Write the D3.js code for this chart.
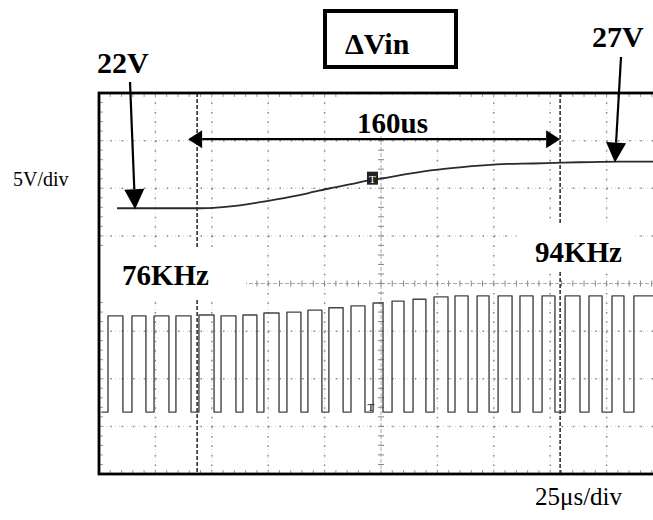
<!DOCTYPE html>
<html>
<head>
<meta charset="utf-8">
<script src="https://cdn.jsdelivr.net/npm/d3@7"></script>
<style>
  html, body { margin: 0; padding: 0; background: #fff; }
  svg { display: block; }
  .lbl { font-family: "Liberation Serif", "Times New Roman", serif; font-weight: bold; fill: #000; }
  .reg { font-family: "Liberation Serif", "Times New Roman", serif; fill: #000; }
</style>
</head>
<body>
<svg id="c" width="653" height="520"></svg>
<script>
// ---------------- data ----------------
// time axis: 25 us/div, 10 divisions
const timeDivs = [0, 1, 2, 3, 4, 5, 6, 7, 8, 9, 10];
const usPerDiv = 25;
const voltDivs = [-4, -3, -2, -1, 0, 1, 2, 3, 4];
const voltsPerDiv = 5;
const ch1Offset = 14.1; // volts at screen centre for channel 1

// channel 1: input voltage step 22V -> 27V
const vinTime  = [8, 27, 44.8, 53.6, 62.5, 73, 84.7, 93, 102.4, 111, 120.1, 125.9, 137, 148.0, 160, 170.2, 181, 192.4, 205.7, 218, 229.6, 245.6, 250];
const vinVolts = [22.0, 22.0, 22.0, 22.1, 22.3, 22.7, 23.2, 23.6, 24.1, 24.5, 24.95, 25.15, 25.6, 26.0, 26.3, 26.5, 26.65, 26.7, 26.8, 26.85, 26.9, 26.9, 26.9];

// channel 2: switching waveform (edge times in us, levels in divisions)
const riseTimes = [4.0, 14.6, 24.4, 34.1, 44.3, 54.1, 63.8, 73.1, 83.3, 92.6, 101.9, 111.7, 121.5, 129.9, 139.2, 148.5, 157.8, 167.6, 176.9, 186.6, 196.4, 206.6, 217.2, 227.4, 237.1];
const fallTimes = [10.6, 20.8, 31.0, 40.8, 51.0, 60.7, 70.0, 79.8, 89.5, 98.8, 108.2, 117.9, 125.9, 135.2, 144.9, 154.7, 163.6, 172.9, 183.1, 192.4, 202.1, 213.2, 223.0, 232.7];
const highLevels = [-0.68, -0.68, -0.68, -0.68, -0.66, -0.68, -0.66, -0.62, -0.60, -0.56, -0.51, -0.47, -0.41, -0.37, -0.33, -0.28, -0.26, -0.26, -0.26, -0.26, -0.26, -0.26, -0.26, -0.26, -0.26];
const lowLevel = -2.70;

// cursors (us) and annotations
const cursorTimes = [43.5, 204.4];
const deltaLabel = "160us";
const startLabel = "22V", endLabel = "27V";
const startVolt = 22.0, endVolt = 26.9;
const startArrowTime = 16, endArrowTime = 228.7;
const freqLeft = "76KHz", freqRight = "94KHz";
const titleLabel = "\u0394Vin";
const vScaleLabel = "5V/div", tScaleLabel = "25\u03bcs/div";
const triggerTime = 121;

// ---------------- scales ----------------
const svg = d3.select("#c");
const x = d3.scaleLinear().domain([0, 10 * usPerDiv]).range([99, 663]);
const y = d3.scaleLinear().domain([-4, 4]).range([474, 93]);
const yV = v => y((v - ch1Offset) / voltsPerDiv);

svg.append("rect").attr("width", 653).attr("height", 520).attr("fill", "#fff");

const grid = svg.append("g");
const minorX = (x(usPerDiv) - x(0)) / 5;
const minorY = (y(0) - y(1)) / 5;
const vLines = timeDivs.filter(d => d > 0 && d < 10 && d !== 5);
const hLines = voltDivs.filter(d => d > -4 && d < 4 && d !== 0);

// fine faint dotted grid lines
grid.selectAll("line.vgf").data(vLines).join("line")
  .attr("x1", d => x(d * usPerDiv)).attr("x2", d => x(d * usPerDiv))
  .attr("y1", y(4)).attr("y2", y(-4))
  .attr("stroke", "#d0d0d0").attr("stroke-width", 1).attr("stroke-dasharray", "1 3");
grid.selectAll("line.hgf").data(hLines).join("line")
  .attr("x1", x(0)).attr("x2", x(250))
  .attr("y1", d => y(d)).attr("y2", d => y(d))
  .attr("stroke", "#d0d0d0").attr("stroke-width", 1).attr("stroke-dasharray", "1 3");
// darker dots at minor divisions
grid.selectAll("line.vg").data(vLines).join("line")
  .attr("x1", d => x(d * usPerDiv)).attr("x2", d => x(d * usPerDiv))
  .attr("y1", y(4)).attr("y2", y(-4))
  .attr("stroke", "#8a8a8a").attr("stroke-width", 1.5)
  .attr("stroke-dasharray", `1.5 ${minorY - 1.5}`);
grid.selectAll("line.hg").data(hLines).join("line")
  .attr("x1", x(0)).attr("x2", x(250))
  .attr("y1", d => y(d)).attr("y2", d => y(d))
  .attr("stroke", "#8a8a8a").attr("stroke-width", 1.5)
  .attr("stroke-dasharray", `1.5 ${minorX - 1.5}`);

// centre axes with ticks
const cx = x(5 * usPerDiv), cy = y(0);
grid.append("line").attr("x1", x(0)).attr("x2", x(250)).attr("y1", cy).attr("y2", cy)
  .attr("stroke", "#aaa").attr("stroke-width", 1).attr("stroke-dasharray", "4 2");
grid.append("line").attr("x1", cx).attr("x2", cx).attr("y1", y(4)).attr("y2", y(-4))
  .attr("stroke", "#aaa").attr("stroke-width", 1).attr("stroke-dasharray", "4 2");
const xMinor = d3.range(1, 50).map(i => i * usPerDiv / 5);
const yMinor = d3.range(-19, 20).map(i => i / 5);
grid.selectAll("line.cxt").data(xMinor).join("line")
  .attr("x1", d => x(d)).attr("x2", d => x(d)).attr("y1", cy - 3).attr("y2", cy + 3)
  .attr("stroke", "#888").attr("stroke-width", 1);
grid.selectAll("line.cyt").data(yMinor).join("line")
  .attr("x1", cx - 3).attr("x2", cx + 3).attr("y1", d => y(d)).attr("y2", d => y(d))
  .attr("stroke", "#888").attr("stroke-width", 1);
// edge ticks
grid.selectAll("line.et").data(xMinor).join("line")
  .attr("x1", d => x(d)).attr("x2", d => x(d)).attr("y1", y(4)).attr("y2", y(4) + 4)
  .attr("stroke", "#999").attr("stroke-width", 1);
grid.selectAll("line.eb").data(xMinor).join("line")
  .attr("x1", d => x(d)).attr("x2", d => x(d)).attr("y1", y(-4)).attr("y2", y(-4) - 4)
  .attr("stroke", "#999").attr("stroke-width", 1);
grid.selectAll("line.el").data(yMinor).join("line")
  .attr("x1", x(0)).attr("x2", x(0) + 4).attr("y1", d => y(d)).attr("y2", d => y(d))
  .attr("stroke", "#999").attr("stroke-width", 1);

// cursors (dark dashed)
const cursorGaps = [[248, 300], [223, 272]];
cursorTimes.forEach((t, i) => {
  const [g0, g1] = cursorGaps[i];
  [[y(4), g0], [g1, y(-4)]].forEach(([a, b]) => {
    svg.append("line").attr("x1", x(t)).attr("x2", x(t)).attr("y1", a).attr("y2", b)
      .attr("stroke", "#333").attr("stroke-width", 1.6).attr("stroke-dasharray", "4 2");
  });
});

// ---------------- traces ----------------
const clip = svg.append("clipPath").attr("id", "scr").append("rect")
  .attr("x", x(0)).attr("y", y(4)).attr("width", x(250) - x(0)).attr("height", y(-4) - y(4));
const traces = svg.append("g").attr("clip-path", "url(#scr)");

const vinLine = d3.line().x((d, i) => x(vinTime[i])).y((d, i) => yV(vinVolts[i])).curve(d3.curveMonotoneX);
traces.append("path").attr("d", vinLine(vinTime)).attr("fill", "none")
  .attr("stroke", "#2a2a2a").attr("stroke-width", 1.8);

const pwm = [[1, lowLevel]];
riseTimes.forEach((r, i) => {
  pwm.push([r, lowLevel], [r, highLevels[i]]);
  if (i < fallTimes.length) pwm.push([fallTimes[i], highLevels[i]], [fallTimes[i], lowLevel]);
  else pwm.push([250, highLevels[i]]);
});
traces.append("path").attr("d", d3.line().x(d => x(d[0])).y(d => y(d[1]))(pwm))
  .attr("fill", "none").attr("stroke", "#444").attr("stroke-width", 1.4)
  .attr("stroke-linejoin", "round");

// trigger markers
const tg = svg.append("g");
tg.append("rect").attr("x", x(triggerTime) - 5).attr("y", yV(25.0) - 8).attr("width", 11).attr("height", 13).attr("fill", "#222");
tg.append("text").attr("x", x(triggerTime) + 0.5).attr("y", yV(25.0) + 3).attr("text-anchor", "middle")
  .attr("class", "reg").attr("font-size", 11).style("fill", "#fff").text("T");
tg.append("text").attr("x", x(triggerTime) - 1).attr("y", y(lowLevel) - 1).attr("text-anchor", "middle")
  .attr("class", "reg").attr("font-size", 11).text("T");

// white label backgrounds
[[100, 248, 146, 50], [517, 223, 118, 48], [337, 95, 115, 41]].forEach(r => {
  svg.append("rect").attr("x", r[0]).attr("y", r[1]).attr("width", r[2]).attr("height", r[3]).attr("fill", "#fff");
});

// screen frame
svg.append("rect").attr("x", x(0)).attr("y", y(4)).attr("width", x(250) - x(0)).attr("height", y(-4) - y(4))
  .attr("fill", "none").attr("stroke", "#000").attr("stroke-width", 2.8);

// ---------------- annotations ----------------
function arrowHead(tipX, tipY, dx, dy, len, half) {
  const bx = tipX - dx * len, by = tipY - dy * len;
  const px = -dy, py = dx;
  return [[tipX, tipY], [bx + px * half, by + py * half], [bx - px * half, by - py * half]];
}
function arrow(x1, y1, x2, y2, len, half, both) {
  const L = Math.hypot(x2 - x1, y2 - y1), ux = (x2 - x1) / L, uy = (y2 - y1) / L;
  svg.append("line").attr("x1", both ? x1 + ux * len : x1).attr("y1", both ? y1 + uy * len : y1)
    .attr("x2", x2 - ux * len).attr("y2", y2 - uy * len)
    .attr("stroke", "#000").attr("stroke-width", 2.2);
  svg.append("polygon").attr("points", arrowHead(x2, y2, ux, uy, len, half).join(" ")).attr("fill", "#000");
  if (both) svg.append("polygon").attr("points", arrowHead(x1, y1, -ux, -uy, len, half).join(" ")).attr("fill", "#000");
}
const arrowY = y(3.03);
arrow(x(cursorTimes[0]) - 9, arrowY, x(cursorTimes[1]), arrowY, 14, 9, true);
arrow(130, 82, x(startArrowTime), yV(startVolt) + 1, 20, 10, false);
arrow(621, 57, x(endArrowTime), yV(endVolt) + 1, 20, 10, false);

// title box
svg.append("rect").attr("x", 325).attr("y", 11).attr("width", 131).attr("height", 56)
  .attr("fill", "#fff").attr("stroke", "#000").attr("stroke-width", 4);
svg.append("text").attr("class", "lbl").attr("x", 345).attr("y", 54).attr("font-size", 30).text(titleLabel);

svg.append("text").attr("class", "lbl").attr("x", 97).attr("y", 73).attr("font-size", 30).text(startLabel);
svg.append("text").attr("class", "lbl").attr("x", 592).attr("y", 47).attr("font-size", 30).text(endLabel);
svg.append("text").attr("class", "lbl").attr("x", 357).attr("y", 133).attr("font-size", 29).text(deltaLabel);
svg.append("text").attr("class", "lbl").attr("x", 122).attr("y", 285).attr("font-size", 29).text(freqLeft);
svg.append("text").attr("class", "lbl").attr("x", 535).attr("y", 262).attr("font-size", 29).text(freqRight);
svg.append("text").attr("class", "reg").attr("x", 13).attr("y", 186).attr("font-size", 20).text(vScaleLabel);
svg.append("text").attr("class", "reg").attr("x", 535).attr("y", 505).attr("font-size", 25).text(tScaleLabel);
</script>
</body>
</html>
